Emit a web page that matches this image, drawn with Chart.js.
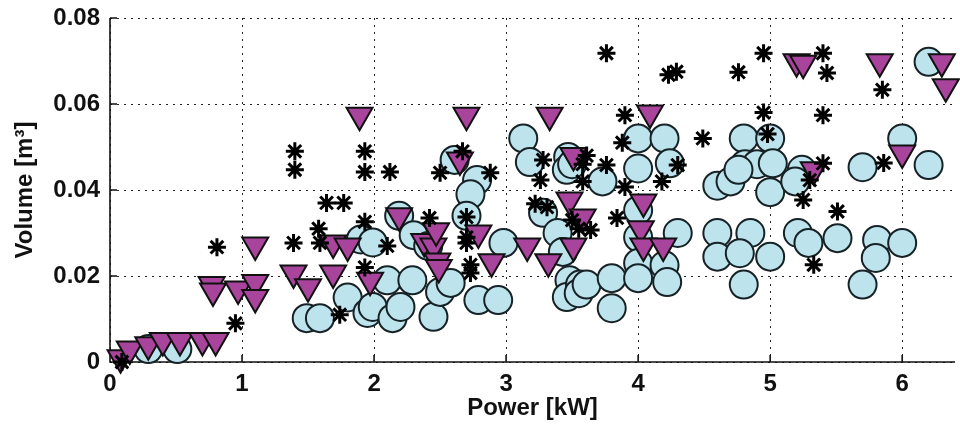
<!DOCTYPE html>
<html>
<head>
<meta charset="utf-8">
<script src="https://cdn.jsdelivr.net/npm/chart.js@4/dist/chart.umd.min.js"></script>
<style>
  html, body { margin: 0; padding: 0; background: #fff; }
  #wrap { width: 960px; height: 432px; }
</style>
</head>
<body>
<div id="wrap"><canvas id="c" width="960" height="432"></canvas></div>
<script>
// ---- data ----
const circleX = [0.29,0.51,1.49,1.59,1.80,1.95,1.99,2.14,2.20,2.10,2.29,2.45,1.90,1.99,2.19,2.30,2.41,2.50,2.58,2.79,2.94,2.61,2.78,2.73,2.70,2.98,3.13,3.18,3.28,3.39,3.43,3.48,3.46,3.56,3.55,3.47,3.46,3.50,3.73,3.61,3.80,3.80,4.0,4.2,4.0,4.24,4.0,4.0,4.30,4.0,4.2,4.0,4.22,4.60,4.70,4.80,5.0,4.81,4.90,4.76,5.02,5.0,4.60,4.60,4.85,4.77,5.0,4.80,5.21,5.29,5.51,5.24,5.19,5.70,5.70,6.2,6.0,6.2,5.81,6.0,5.8];
const circleY = [0.003,0.003,0.0102,0.0102,0.015,0.0114,0.0128,0.0102,0.0128,0.019,0.019,0.0105,0.0285,0.0278,0.034,0.0295,0.027,0.0163,0.0184,0.0144,0.0144,0.047,0.0423,0.039,0.034,0.0277,0.052,0.0465,0.0347,0.030,0.0256,0.019,0.0151,0.018,0.016,0.0477,0.0447,0.046,0.042,0.018,0.0195,0.0125,0.052,0.052,0.045,0.0462,0.0353,0.029,0.030,0.023,0.0225,0.0195,0.0186,0.041,0.042,0.052,0.052,0.046,0.046,0.0447,0.0462,0.0395,0.030,0.0245,0.030,0.0253,0.0245,0.018,0.030,0.0277,0.0288,0.0447,0.042,0.0453,0.018,0.0698,0.052,0.0458,0.0284,0.0277,0.0242];

const triX = [0.08,0.15,0.29,0.40,0.53,0.70,0.80,0.77,0.78,0.97,1.10,1.10,1.10,1.39,1.50,1.69,1.69,1.80,1.89,1.97,2.19,2.38,2.45,2.47,2.48,2.49,2.70,3.33,2.65,3.51,3.48,3.58,2.79,2.89,3.16,3.32,3.51,4.09,4.04,4.02,4.04,4.19,5.2,5.25,5.33,5.83,6.30,6.33,6.0];
const triY = [0.001,0.003,0.004,0.005,0.005,0.005,0.005,0.018,0.0165,0.017,0.0185,0.015,0.0272,0.0207,0.0175,0.0207,0.0277,0.027,0.0574,0.019,0.034,0.028,0.027,0.0305,0.0235,0.022,0.0574,0.0574,0.047,0.048,0.0377,0.0337,0.030,0.0233,0.027,0.0233,0.027,0.0579,0.0372,0.031,0.027,0.027,0.0698,0.0695,0.0447,0.0698,0.0698,0.064,0.0486];

const starX = [0.09,0.81,0.95,1.39,1.58,1.59,1.64,1.77,1.40,1.40,1.93,1.93,2.12,2.50,1.93,2.10,1.93,1.74,2.42,2.67,2.88,2.70,2.70,2.70,2.73,2.73,3.28,3.26,3.22,3.31,3.50,3.55,3.58,3.61,3.58,3.76,4.23,4.29,3.90,3.88,3.76,3.90,4.18,4.30,4.49,3.84,3.64,4.76,4.95,5.40,5.43,4.95,4.98,5.40,5.40,5.30,5.25,5.51,5.33,5.85,5.86];
const starY = [0.0,0.0267,0.009,0.0277,0.031,0.0277,0.037,0.037,0.049,0.0447,0.049,0.0442,0.0442,0.044,0.0326,0.027,0.022,0.011,0.0335,0.049,0.044,0.0337,0.029,0.0277,0.0226,0.0207,0.047,0.0423,0.0368,0.036,0.033,0.031,0.046,0.048,0.042,0.0718,0.0668,0.0675,0.0574,0.051,0.0458,0.0407,0.042,0.0458,0.052,0.0335,0.0307,0.0674,0.0718,0.0718,0.0672,0.058,0.053,0.0574,0.0462,0.0423,0.0377,0.035,0.0226,0.0633,0.0463];

const xTicks = [0,1,2,3,4,5,6];
const yTicks = [0,0.02,0.04,0.06,0.08];
const xTitle = 'Power [kW]';
const yTitle = 'Volume [m\u00B3]';

const pts = (xs, ys) => xs.map((x, i) => ({x: x, y: ys[i]}));

const FONT = {family: "'Liberation Sans', Arial, Helvetica, sans-serif", size: 24, weight: 'bold'};

const axesAndTicks = {
  id: 'axesAndTicks',
  beforeDatasetsDraw(chart) {
    const {ctx, chartArea: a, scales: {x, y}} = chart;
    ctx.save();
    ctx.strokeStyle = '#111';
    ctx.lineWidth = 1.6;
    ctx.setLineDash([]);
    ctx.beginPath();
    ctx.moveTo(a.left, a.top); ctx.lineTo(a.left, a.bottom); ctx.lineTo(a.right, a.bottom);
    yTicks.forEach(v => { const py = y.getPixelForValue(v); ctx.moveTo(a.left, py); ctx.lineTo(a.left + 7, py); });
    xTicks.forEach(v => { const px = x.getPixelForValue(v); ctx.moveTo(px, a.bottom); ctx.lineTo(px, a.bottom - 7); });
    ctx.stroke();
    ctx.restore();
  }
};

new Chart(document.getElementById('c'), {
  type: 'scatter',
  data: {
    datasets: [
      { label: 'stars', data: pts(starX, starY), order: 1, clip: false, pointStyle: 'star', pointRadius: 9, pointBorderWidth: 3,
        borderColor: '#000', backgroundColor: '#000' },
      { label: 'triangles', data: pts(triX, triY), order: 2, clip: false, pointStyle: 'triangle', rotation: 180, pointRadius: 15,
        pointBorderWidth: 2, borderColor: '#111', backgroundColor: '#a8449c' },
      { label: 'circles', data: pts(circleX, circleY), order: 3, clip: false, pointStyle: 'circle', pointRadius: 14,
        pointBorderWidth: 2, borderColor: '#162226', backgroundColor: '#bde3ed' }
    ]
  },
  options: {
    responsive: false,
    animation: false,
    events: [],
    layout: { autoPadding: false, padding: { top: 18, right: 5, left: 0, bottom: 0 } },
    plugins: { legend: { display: false }, tooltip: { enabled: false } },
    scales: {
      x: {
        type: 'linear', min: 0, max: 6.4,
        afterFit: s => { s.height = 70; s.paddingLeft = 0; s.paddingRight = 0; },
        afterBuildTicks: s => { s.ticks = xTicks.map(v => ({value: v})); },
        ticks: { font: FONT, color: '#111', padding: 8, maxRotation: 0, callback: v => String(v) },
        grid: { color: '#222', lineWidth: 1, drawTicks: false },
        border: { display: false, dash: [2, 5] },
        title: { display: true, text: xTitle, font: FONT, color: '#111', padding: {top: 0, bottom: 9} }
      },
      y: {
        type: 'linear', min: 0, max: 0.08,
        afterFit: s => { s.width = 110; s.paddingTop = 0; s.paddingBottom = 0; },
        afterBuildTicks: s => { s.ticks = yTicks.map(v => ({value: v})); },
        ticks: { font: FONT, color: '#111', padding: 10, callback: v => v === 0 ? '0' : v.toFixed(2) },
        grid: { color: '#222', lineWidth: 1, drawTicks: false },
        border: { display: false, dash: [2, 5] },
        title: { display: true, text: yTitle, font: FONT, color: '#111', padding: {top: 11, bottom: 0} }
      }
    }
  },
  plugins: [axesAndTicks]
});
</script>
</body>
</html>
